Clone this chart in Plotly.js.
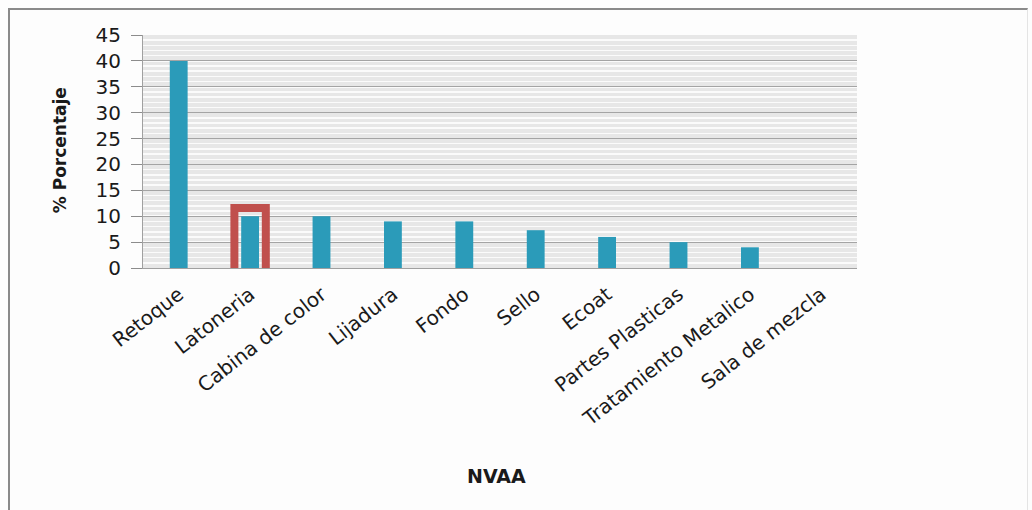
<!DOCTYPE html>
<html>
<head>
<meta charset="utf-8">
<script src="https://cdn.plot.ly/plotly-3.0.1.min.js"></script>
<style>
  html, body { margin: 0; padding: 0; background: #fdfdfd; }
  #wrap { position: relative; width: 1032px; height: 510px; }
  #chart { position: absolute; left: 0; top: 0; width: 1032px; height: 510px; }
  #frame { position: absolute; left: 8px; top: 8px; width: 1020px; height: 510px;
           border-left: 2px solid #8a8a8a; border-top: 2px solid #8a8a8a; border-right: 1px solid #e4e4e4;
           pointer-events: none; box-sizing: border-box; }
</style>
</head>
<body>
<div id="wrap">
  <div id="chart"></div>
  <div id="frame"></div>
</div>
<script>
const categories = ["Retoque", "Latoneria", "Cabina de color", "Lijadura", "Fondo",
                    "Sello", "Ecoat", "Partes Plasticas", "Tratamiento Metalico", "Sala de mezcla"];
const porcentaje = [40, 10, 10, 9, 9, 7.3, 6, 5, 4, 0];
const yTicks = [0, 5, 10, 15, 20, 25, 30, 35, 40, 45];
const xTitle = "NVAA";
const yTitle = "% Porcentaje";
const highlightIndex = 1;   // Latoneria
const highlightTop = 11.6;

const trace = {
  type: "bar",
  x: categories,
  y: porcentaje,
  marker: { color: "#2b9bb9", line: { width: 0 } },
  width: 0.25,
  hoverinfo: "x+y"
};

const hx0 = highlightIndex - 0.22, hx1 = highlightIndex + 0.22;
const bracketPath = "M " + hx0 + "," + (-0.2) + " L " + hx0 + "," + highlightTop +
                    " L " + hx1 + "," + highlightTop + " L " + hx1 + "," + (-0.2);

const layout = {
  width: 1032, height: 510,
  margin: { l: 143, r: 175, t: 35, b: 242 },
  paper_bgcolor: "rgba(0,0,0,0)",
  plot_bgcolor: "#e7e7e7",
  showlegend: false,
  font: { family: "DejaVu Sans, sans-serif", color: "#1a1a1a" },
  xaxis: {
    type: "category",
    tickangle: -38,
    tickfont: { family: "DejaVu Sans, sans-serif", size: 20, color: "#1a1a1a" },
    ticklabelstandoff: 6,
    showgrid: false,
    showline: true, linecolor: "#a0a0a0", linewidth: 1,
    ticks: "",
    automargin: false
  },
  yaxis: {
    range: [0, 45],
    tickvals: yTicks,
    ticktext: yTicks.map(String),
    tickfont: { family: "DejaVu Sans, sans-serif", size: 20, color: "#1a1a1a" },
    ticks: "outside", ticklen: 11, tickcolor: "#8c8c8c",
    ticklabelstandoff: 6,
    showline: true, linecolor: "#a0a0a0", linewidth: 1,
    showgrid: true, gridcolor: "#a4a4a4", gridwidth: 1,
    minor: { dtick: 1, showgrid: true, gridcolor: "#fbfbfb", gridwidth: 1.5 },
    zeroline: false,
    automargin: false
  },
  annotations: [
    { text: "<b>" + xTitle + "</b>", xref: "paper", yref: "paper", x: 0.495, y: -0.893,
      xanchor: "center", yanchor: "middle", showarrow: false,
      font: { family: "DejaVu Sans, sans-serif", size: 19, color: "#1a1a1a" } },
    { text: "<b>" + yTitle + "</b>", xref: "paper", yref: "paper", x: -0.116, y: 0.506,
      xanchor: "center", yanchor: "middle", textangle: -90, showarrow: false,
      font: { family: "DejaVu Sans, sans-serif", size: 17, color: "#1a1a1a" } }
  ],
  shapes: [
    { type: "path", xref: "x", yref: "y", path: bracketPath,
      line: { color: "#c0504d", width: 8 }, layer: "above" }
  ]
};

Plotly.newPlot("chart", [trace], layout, { displayModeBar: false, staticPlot: true });
</script>
</body>
</html>
